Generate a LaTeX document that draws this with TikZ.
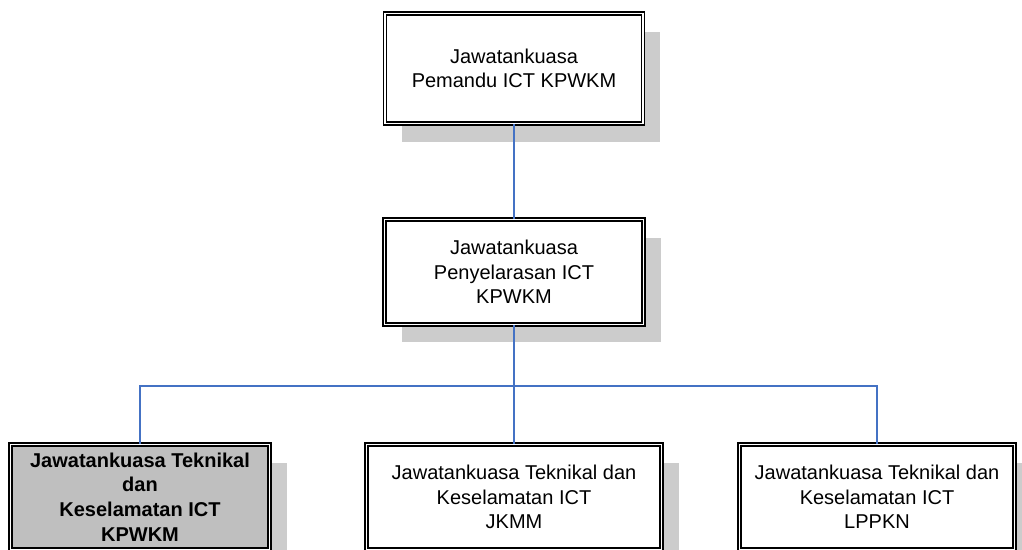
\documentclass[tikz,border=0pt]{standalone}
\usepackage{fontspec}
\setmainfont{Liberation Sans}
\usepackage{xcolor}
\usepackage{tikz}
\usetikzlibrary{shadows}
\definecolor{linkblue}{RGB}{68,114,196}
\tikzset{
    box/.style={shape=rectangle,draw=black,double=white,line width=1.35pt,double distance=1pt,
        fill=white,align=center,inner sep=0pt,font=\fontsize{15}{18.5}\selectfont,
        drop shadow={shadow xshift=13pt,shadow yshift=-13.5pt,fill=black!20,opacity=1}},
    grey box/.style={box,fill=black!25,font=\bfseries\fontsize{15}{18.5}\selectfont},
    link/.style={draw=linkblue,line width=1.1pt}
}
\begin{document}
\begin{tikzpicture}[x=0.75pt,y=-0.75pt]
    \useasboundingbox (0,0) rectangle (1022,550);
    \clip (0,0) rectangle (1022,550);
    % committees
    \node(0)[box,minimum width=193.5pt,minimum height=82.5pt] at (514,68.5) {Jawatankuasa\\Pemandu ICT KPWKM};
    \node(1)[box,minimum width=194.2pt,minimum height=78.7pt] at (514,272) {Jawatankuasa\\Penyelarasan ICT\\KPWKM};
    \node(1-1)[grey box,minimum width=194.2pt,minimum height=78.7pt] at (140,497) {Jawatankuasa Teknikal\\dan\\Keselamatan ICT\\KPWKM};
    \node(1-2)[box,minimum width=221.2pt,minimum height=78.7pt] at (514,497) {Jawatankuasa Teknikal dan\\Keselamatan ICT\\JKMM};
    \node(1-3)[box,minimum width=206.2pt,minimum height=78.7pt] at (877,497) {Jawatankuasa Teknikal dan\\Keselamatan ICT\\LPPKN};
    \coordinate (bus) at (514,386);
    % links
    \draw[link] (0.south) -- (1.north);
    \draw[link] (1.south) -- (bus);
    \draw[link] (bus) -| (1-1.north);
    \draw[link] (bus) -- (1-2.north);
    \draw[link] (bus) -| (1-3.north);
\end{tikzpicture}
\end{document}
